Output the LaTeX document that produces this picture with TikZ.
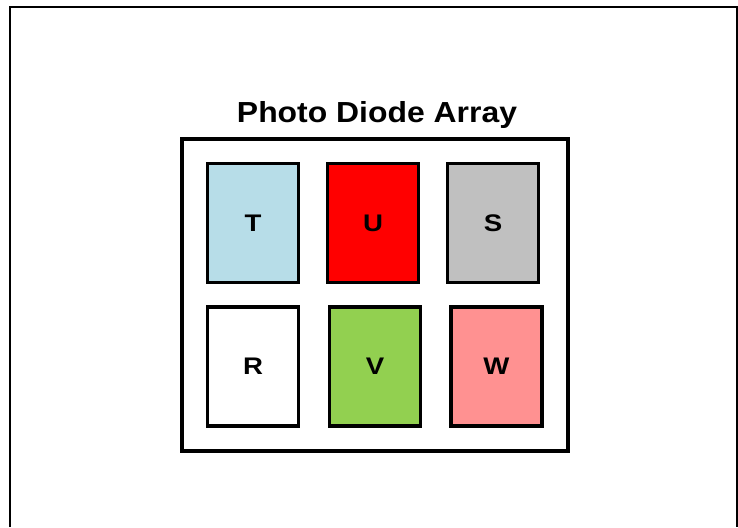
\documentclass[tikz,border=0pt]{standalone}
\usepackage{fontspec}
\setmainfont{Liberation Sans}
\definecolor{diodeblue}{HTML}{B7DDE8}
\definecolor{diodered}{HTML}{FF0000}
\definecolor{diodegray}{HTML}{C0C0C0}
\definecolor{diodegreen}{HTML}{92D050}
\definecolor{diodepink}{HTML}{FF9191}
\newcommand{\widelabel}[1]{\scalebox{1.15}[1]{#1}}
\tikzset{
    diode/.style={draw, line width=3.3pt, minimum width=91pt, minimum height=119pt,
        inner sep=0pt, font=\fontsize{24}{26}\selectfont\bfseries},
}
\begin{document}
\begin{tikzpicture}[x=1pt, y=-1pt]
    \useasboundingbox (0,0) rectangle (738,527);

    % frame
    \draw[line width=2pt] (9.5,527) -- (9.5,7) -- (736.5,7) -- (736.5,527);

    \node[anchor=base, xscale=1.1, font=\fontsize{29}{32}\selectfont\bfseries] (title) at (377,122) {Photo Diode Array};
    \draw[line width=3.3pt] (182,139) rectangle (568,451);

    \begin{scope}
        \node[diode, fill=diodeblue] (T) at (253,223) {\widelabel{T}};
        \node[diode, fill=diodered] (U) at (373,223) {\widelabel{U}};
        \node[diode, fill=diodegray] (S) at (493,223) {\widelabel{S}};
    \end{scope}

    \begin{scope}
        \node[diode, fill=white] (R) at (253,366.5) {\widelabel{R}};
        \node[diode, fill=diodegreen] (V) at (375,366.5) {\widelabel{V}};
        \node[diode, fill=diodepink] (W) at (496.5,366.5) {\widelabel{W}};
    \end{scope}
\end{tikzpicture}
\end{document}
